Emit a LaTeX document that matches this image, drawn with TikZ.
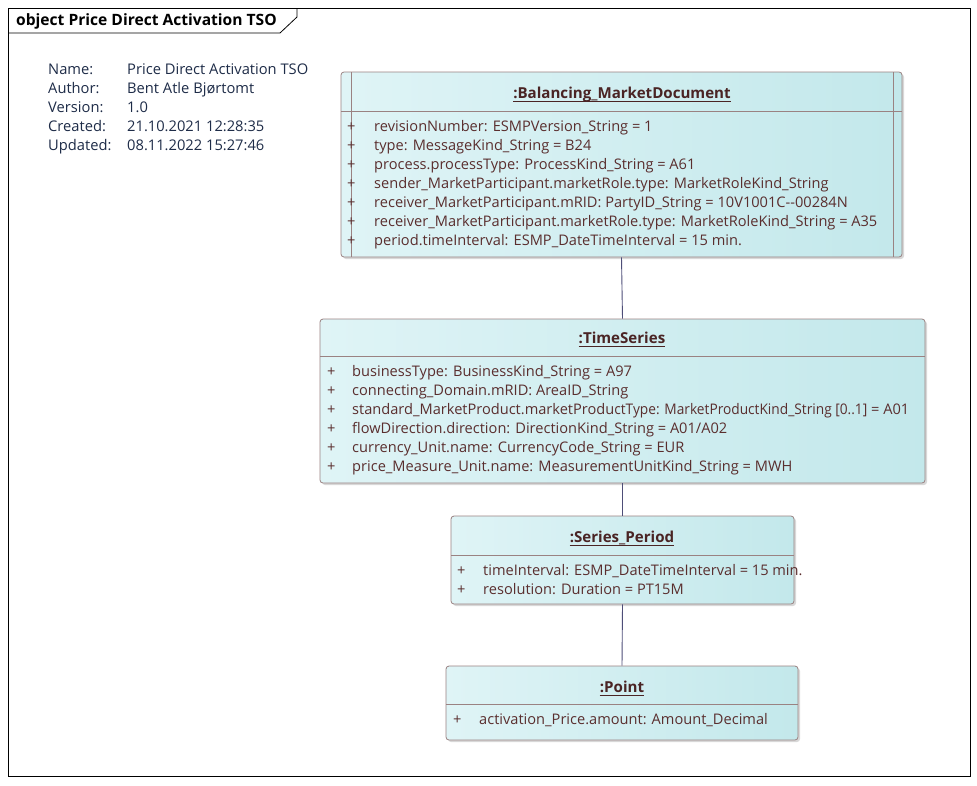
\documentclass[tikz,border=0pt]{standalone}
\usepackage{fontspec}
\setmainfont{Open Sans}
\usetikzlibrary{shadows}
\definecolor{txt}{HTML}{5A2E2E}
\definecolor{ttl}{HTML}{4A2424}
\definecolor{brd}{HTML}{9A8282}
\definecolor{lc}{HTML}{DFF4F6}
\definecolor{rc}{HTML}{C3E8EB}
\definecolor{conn}{HTML}{4E4E78}
\definecolor{info}{HTML}{1E2C48}
\begin{document}
\begin{tikzpicture}[x=1pt,y=-1pt,
  objbox/.style={draw=brd, line width=0.8pt, rounded corners=3pt, left color=lc, right color=rc,
    minimum width=#1, inner sep=0pt, drop shadow={shadow xshift=2pt, shadow yshift=-2pt, fill=black!30, opacity=0.5}},
  objtitle/.style={font=\fontsize{15.1}{18}\selectfont\bfseries, text=ttl, inner sep=0pt, anchor=base},
  attr/.style={font=\fontsize{14.6}{18}\selectfont, text=txt, anchor=base west, inner sep=0pt},
  infotxt/.style={font=\fontsize{14.7}{18}\selectfont, text=info, anchor=base west, inner sep=0pt},
  sep/.style={draw=brd, line width=0.8pt},
  uline/.style={draw=ttl, line width=0.8pt},
  link/.style={draw=conn, line width=0.9pt}]
\useasboundingbox (0,0) rectangle (977,785);
\fill[white] (0,0) rectangle (977,785);
% frame
\draw[black, line width=0.8pt] (8,8) rectangle (970,776);
\draw[black, line width=0.8pt] (8,33) -- (280,33) -- (297,17) -- (297,8);
\node[font=\fontsize{15.6}{18}\selectfont\bfseries, anchor=base west, inner sep=0pt] (frametitle) at (16,25.5) {object Price Direct Activation TSO};
% info
\node[infotxt] (n1) at (48,74.5) {Name:};
\node[infotxt] (n2) at (48,93.5) {Author:};
\node[infotxt] (n3) at (48,112.5) {Version:};
\node[infotxt] (n4) at (48,131.5) {Created:};
\node[infotxt] (n5) at (48,150.5) {Updated:};
\node[infotxt] (v1) at (127,74.5) {Price Direct Activation TSO};
\node[infotxt] (v2) at (127,93.5) {Bent Atle Bjørtomt};
\node[infotxt] (v3) at (127,112.5) {1.0};
\node[infotxt] (v4) at (127,131.5) {21.10.2021 12:28:35};
\node[infotxt] (v5) at (127,150.5) {08.11.2022 15:27:46};
% boxes
\node[objbox=561pt, minimum height=185pt] (b1) at (621.5,164.5) {};
\node[objbox=605pt, minimum height=164pt] (b2) at (622.5,401) {};
\node[objbox=343pt, minimum height=88pt] (b3) at (622.5,560) {};
\node[objbox=352pt, minimum height=74pt] (b4) at (622,703) {};
% connectors
\draw[link] (b1.south) -- (b2.north);
\draw[link] (b2.south) -- (b3.north);
\draw[link] (b3.south) -- (b4.north);
% box 1
\draw[sep] (341,111) -- (902,111);
\draw[sep] (351,72) -- (351,257);
\draw[sep] (893,72) -- (893,257);
\node[objtitle] (t1) at (622,98.5) {:Balancing\_MarketDocument};
\draw[uline] ([yshift=-3pt]t1.base west) -- ([yshift=-3pt]t1.base east);
\foreach \y/\s in {131.5/{revisionNumber: ESMPVersion\_String = 1},
  150.5/{type: MessageKind\_String = B24},
  169.5/{process.processType: ProcessKind\_String = A61},
  188.5/{sender\_MarketParticipant.marketRole.type: MarketRoleKind\_String},
  207.5/{receiver\_MarketParticipant.mRID: PartyID\_String = 10V1001C-{}-00284N},
  226.5/{receiver\_MarketParticipant.marketRole.type: MarketRoleKind\_String = A35},
  245.5/{period.timeInterval: ESMP\_DateTimeInterval = 15 min.}}{
  \node[attr] at (347,\y) {+};
  \node[attr] at (374,\y) {\s};
}
% box 2
\draw[sep] (320,356) -- (925,356);
\node[objtitle] (t2) at (622,343.5) {:TimeSeries};
\draw[uline] ([yshift=-3pt]t2.base west) -- ([yshift=-3pt]t2.base east);
\foreach \y/\s in {376/{businessType: BusinessKind\_String = A97},
  395/{connecting\_Domain.mRID: AreaID\_String},
  414/{standard\_MarketProduct.marketProdu\resizebox{253pt}{\height}{ctType: MarketProductKind\_String [0..1]} = A01},
  433/{flowDirection.direction: DirectionKind\_String = A01/A02},
  452/{currency\_Unit.name: CurrencyCode\_String = EUR},
  471/{price\_Measure\_Unit.name: MeasurementUnitKind\_String = MWH}}{
  \node[attr] at (327,\y) {+};
  \node[attr] at (352,\y) {\s};
}
% box 3
\draw[sep] (451,555) -- (794,555);
\node[objtitle] (t3) at (622,542) {:Series\_Period};
\draw[uline] ([yshift=-3pt]t3.base west) -- ([yshift=-3pt]t3.base east);
\foreach \y/\s in {575/{timeInterval: ESMP\_DateTimeInterval = 15 min.},
  594.5/{resolution: Duration = PT15M}}{
  \node[attr] at (457,\y) {+};
  \node[attr] at (483,\y) {\s};
}
% box 4
\draw[sep] (446,704) -- (798,704);
\node[objtitle] (t4) at (622,692) {:Point};
\draw[uline] ([yshift=-3pt]t4.base west) -- ([yshift=-3pt]t4.base east);
\node[attr] at (453,724) {+};
\node[attr] at (479,724) {activation\_Price.amount: Amount\_Decimal};
\end{tikzpicture}
\end{document}
